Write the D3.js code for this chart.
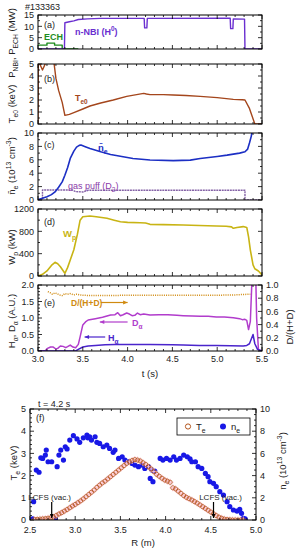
<!DOCTYPE html>
<html>
<head>
<meta charset="utf-8">
<script src="https://cdn.jsdelivr.net/npm/d3@7"></script>
<style>
  body { margin: 0; background: #fff; }
  text { font-family: "Liberation Sans", Arial, sans-serif; fill: #222; }
</style>
</head>
<body>
<svg id="fig" width="296" height="550"></svg>
<script>
// ---- time traces, shot #133363 ----
const echT = [3.0, 3.10, 3.10, 3.185, 3.185, 3.27, 3.27, 3.45];
const echP = [1.7, 1.7, 2.6, 2.6, 1.7, 1.7, 0, 0];

const nbiT = [3.0, 3.295, 3.30, 3.35, 3.40, 3.45, 3.55, 3.70, 4.185, 4.19, 4.215, 4.22, 5.145, 5.15, 5.175, 5.18, 5.305, 5.31, 5.5];
const nbiP = [0, 0, 11.6, 12.0, 12.4, 13.0, 13.3, 13.5, 13.5, 9.3, 9.3, 13.5, 13.6, 9.0, 9.0, 13.3, 13.2, 0, 0];

const te0T = [3.0, 3.004, 3.02, 3.05, 3.08, 3.10, 3.17, 3.18, 3.20, 3.23, 3.27, 3.30, 3.35, 3.40, 3.50, 3.58, 3.70, 3.84, 3.99, 4.10, 4.18, 4.21, 4.25, 4.40, 4.51, 4.65, 4.81, 5.00, 5.18, 5.28, 5.31, 5.36, 5.42, 5.5];
const te0V = [0, 6, 5.0, 4.5, 5.0, 6, 6, 5.0, 3.8, 2.8, 1.8, 0.72, 0.8, 0.95, 1.25, 1.5, 1.75, 2.0, 2.3, 2.45, 2.55, 2.5, 2.45, 2.45, 2.42, 2.38, 2.3, 2.2, 2.05, 2.02, 2.0, 1.3, 0, 0];

const neT = [3.0, 3.05, 3.10, 3.15, 3.19, 3.23, 3.27, 3.30, 3.33, 3.36, 3.40, 3.43, 3.46, 3.48, 3.52, 3.58, 3.70, 3.81, 3.95, 4.06, 4.25, 4.51, 4.70, 4.81, 5.00, 5.11, 5.25, 5.31, 5.34, 5.36, 5.38, 5.40];
const neV = [0.05, 0.25, 0.5, 0.8, 1.2, 1.9, 2.7, 3.7, 4.8, 6.2, 7.3, 7.9, 8.15, 8.2, 8.0, 7.7, 7.2, 6.8, 6.45, 6.2, 5.97, 5.87, 5.95, 6.2, 6.5, 6.7, 7.0, 7.2, 7.6, 8.5, 9.5, 11];

const gasT = [3.0, 3.05, 3.05, 3.38, 3.42, 3.50, 3.56, 5.31, 5.31, 5.5];
const gasV = [0, 0, 1.5, 1.5, 1.25, 1.2, 1.45, 1.45, 0, 0];

const wpT = [3.0, 3.05, 3.10, 3.15, 3.19, 3.22, 3.25, 3.30, 3.33, 3.36, 3.40, 3.44, 3.47, 3.50, 3.58, 3.65, 3.77, 3.85, 3.92, 4.0, 4.14, 4.2, 4.25, 4.4, 4.62, 4.8, 4.99, 5.1, 5.16, 5.18, 5.22, 5.29, 5.33, 5.35, 5.37, 5.40, 5.42, 5.46, 5.5];
const wpV = [0, 30, 90, 190, 245, 220, 166, 48, 150, 287, 470, 750, 1000, 1060, 1075, 1060, 1033, 1000, 973, 960, 955, 950, 925, 920, 913, 905, 895, 890, 880, 855, 870, 885, 870, 700, 465, 200, 130, 90, 20];

const daT = [3.0, 3.08, 3.10, 3.14, 3.17, 3.20, 3.22, 3.25, 3.28, 3.31, 3.33, 3.36, 3.39, 3.42, 3.45, 3.47, 3.50, 3.53, 3.56, 3.64, 3.72, 3.81, 3.86, 3.89, 3.92, 3.95, 3.99, 4.02, 4.05, 4.08, 4.11, 4.14, 4.18, 4.25, 4.35, 4.45, 4.55, 4.62, 4.72, 4.81, 4.9, 4.99, 5.08, 5.18, 5.25, 5.28, 5.31, 5.33, 5.35, 5.37, 5.39, 5.40, 5.43, 5.44, 5.46, 5.5];
const daV = [0, 0, 0.07, 0.12, 0.12, 0.06, 0.08, 0.15, 0.14, 0.1, 0.13, 0.18, 0.12, 0.1, 0.2, 0.43, 0.79, 0.88, 0.94, 0.98, 1.02, 1.09, 1.1, 1.16, 1.07, 1.1, 1.15, 1.12, 1.07, 1.08, 1.15, 1.1, 1.12, 1.09, 1.1, 1.1, 1.08, 1.07, 1.06, 1.05, 1.05, 1.03, 1.03, 1.01, 0.98, 0.95, 0.96, 0.93, 0.65, 0.9, 2.3, 2.3, 2.3, 1.0, 0.05, 0];

const haT = [3.0, 3.42, 3.45, 3.50, 3.56, 3.64, 3.75, 3.86, 4.0, 4.25, 4.5, 4.62, 4.8, 4.99, 5.15, 5.29, 5.33, 5.36, 5.40, 5.42, 5.45, 5.5];
const haV = [0, 0, 0.05, 0.12, 0.15, 0.17, 0.19, 0.2, 0.2, 0.2, 0.19, 0.18, 0.17, 0.17, 0.16, 0.15, 0.17, 0.22, 0.5, 0.22, 0.05, 0];

const ratioT = [3.11, 3.14, 3.16, 3.19, 3.21, 3.24, 3.27, 3.30, 3.33, 3.36, 3.40, 3.43, 3.47, 3.50, 3.6, 3.8, 4.0, 4.5, 5.0, 5.2, 5.35, 5.37];
const ratioV = [0.90, 0.88, 0.86, 0.88, 0.87, 0.85, 0.84, 0.87, 0.86, 0.87, 0.85, 0.86, 0.85, 0.845, 0.84, 0.84, 0.845, 0.845, 0.845, 0.85, 0.86, 0.86];

// ---- radial profiles at t = 4.2 s ----
const teProfR = [2.55, 2.58, 2.61, 2.64, 2.67, 2.70, 2.73, 2.76, 2.79, 2.82, 2.85, 2.88, 2.91, 2.94, 2.97, 3.00, 3.03, 3.06, 3.09, 3.12, 3.15, 3.18, 3.21, 3.24, 3.27, 3.30, 3.33, 3.36, 3.39, 3.42, 3.45, 3.48, 3.51, 3.54, 3.57, 3.60, 3.63, 3.66, 3.69, 3.72, 3.75, 3.78, 3.81, 3.84, 3.87, 3.90, 3.93, 3.96, 3.99, 4.02, 4.05, 4.08, 4.11, 4.14, 4.17, 4.20, 4.23, 4.26, 4.29, 4.32, 4.35, 4.38, 4.41, 4.44, 4.47, 4.50, 4.53, 4.56, 4.59, 4.62, 4.65, 4.68, 4.71, 4.74, 4.77, 4.80, 4.83, 4.86];
const teProfV = [0.02, 0.03, 0.04, 0.05, 0.06, 0.08, 0.1, 0.13, 0.2, 0.27, 0.33, 0.4, 0.47, 0.55, 0.63, 0.7, 0.78, 0.86, 0.95, 1.05, 1.15, 1.25, 1.35, 1.47, 1.57, 1.67, 1.75, 1.85, 1.95, 2.05, 2.15, 2.25, 2.35, 2.45, 2.55, 2.62, 2.68, 2.72, 2.7, 2.66, 2.58, 2.5, 2.4, 2.3, 2.18, 2.06, 1.97, 1.88, 1.8, 1.75, 1.7, 1.45, 1.4, 1.3, 1.2, 1.1, 1.02, 0.96, 0.9, 0.83, 0.76, 0.68, 0.6, 0.52, 0.44, 0.36, 0.28, 0.2, 0.13, 0.08, 0.04, 0.02, 0.01, 0.0, 0.0, 0.0, 0.0, 0.0];

const neProfR = [2.53, 2.54, 2.57, 2.60, 2.62, 2.64, 2.67, 2.68, 2.70, 2.74, 2.78, 2.80, 2.82, 2.84, 2.87, 2.89, 2.91, 2.94, 2.98, 3.02, 3.05, 3.09, 3.13, 3.14, 3.16, 3.18, 3.22, 3.24, 3.27, 3.31, 3.35, 3.38, 3.42, 3.44, 3.48, 3.52, 3.55, 3.59, 3.63, 3.66, 3.70, 3.74, 3.77, 3.81, 3.83, 3.85, 3.86, 3.88, 3.94, 3.97, 4.01, 4.05, 4.09, 4.12, 4.16, 4.20, 4.24, 4.27, 4.29, 4.33, 4.36, 4.40, 4.44, 4.47, 4.49, 4.53, 4.56, 4.60, 4.64, 4.68, 4.71, 4.75, 4.79, 4.82, 4.84, 4.86, 4.88];
const neProfV = [0.1, 1.65, 4.5, 4.3, 5.6, 5.55, 5.85, 6.3, 5.25, 5.25, 0.1, 4.8, 5.85, 6.3, 5.4, 6.6, 6.4, 7.2, 7.6, 7.3, 7.0, 7.4, 7.65, 7.4, 7.5, 7.2, 7.5, 7.0, 6.9, 6.6, 6.75, 6.45, 6.1, 6.3, 5.55, 5.7, 5.4, 5.25, 5.1, 4.95, 4.8, 4.95, 4.65, 4.8, 3.75, 4.5, 3.45, 4.4, 5.55, 5.4, 5.55, 5.4, 5.7, 5.4, 5.55, 5.85, 5.7, 5.5, 5.25, 5.25, 4.8, 4.65, 4.2, 3.9, 3.45, 3.3, 3.0, 2.55, 2.25, 1.65, 1.2, 0.9, 0.8, 0.95, 0.6, 0.15, 0.1];

const lcfsR = [2.74, 4.53];

// ---- helpers ----
const svg = d3.select("#fig");
const defs = svg.append("defs");
const fmt1 = d3.format(".1f");
const TICK_FS = 9;

function steps(lo, hi, step) {
  const n = Math.round((hi - lo) / step);
  return d3.range(n + 1).map(i => +(lo + i * step).toFixed(5));
}
function onStep(v, step) {
  return Math.abs(v / step - Math.round(v / step)) < 1e-6;
}

// rich text with sub/superscripts
function rich(t, parts, fs) {
  let shift = 0;
  parts.forEach(([s, k]) => {
    const target = k === "sub" ? fs * 0.3 : k === "sup" ? -fs * 0.4 : 0;
    t.append("tspan").attr("dy", target - shift).attr("font-size", k ? fs * 0.72 : fs).text(s);
    shift = target;
  });
  return t;
}

function frame(xs, ys, xMinor, xMajor, yMinor, yMajor, mirror) {
  const [x0, x1] = xs.range(), [yb, yt] = ys.range();
  const g = svg.append("g").attr("stroke", "#000").attr("stroke-width", 0.8);
  g.append("rect").attr("x", x0).attr("y", yt).attr("width", x1 - x0).attr("height", yb - yt)
    .attr("fill", "none").attr("stroke-width", 1);
  const xd = xs.domain(), yd = ys.domain();
  steps(xd[0], xd[1], xMinor).forEach(v => {
    const len = onStep(v - xd[0], xMajor) ? 4 : 2;
    g.append("line").attr("x1", xs(v)).attr("x2", xs(v)).attr("y1", yb).attr("y2", yb - len);
    g.append("line").attr("x1", xs(v)).attr("x2", xs(v)).attr("y1", yt).attr("y2", yt + len);
  });
  steps(yd[0], yd[1], yMinor).forEach(v => {
    const len = onStep(v, yMajor) ? 4 : 2;
    g.append("line").attr("x1", x0).attr("x2", x0 + len).attr("y1", ys(v)).attr("y2", ys(v));
    if (mirror) g.append("line").attr("x1", x1).attr("x2", x1 - len).attr("y1", ys(v)).attr("y2", ys(v));
  });
  return g;
}

function rightTicks(xPos, ys, minor, major) {
  const g = svg.append("g").attr("stroke", "#000").attr("stroke-width", 0.8);
  const yd = ys.domain();
  steps(yd[0], yd[1], minor).forEach(v => {
    const len = onStep(v, major) ? 4 : 2;
    g.append("line").attr("x1", xPos).attr("x2", xPos - len).attr("y1", ys(v)).attr("y2", ys(v));
  });
}

function yLabels(vals, ys, xPos, anchor, f) {
  vals.forEach(v => {
    svg.append("text").attr("x", xPos).attr("y", ys(v) + 3.2).attr("text-anchor", anchor)
      .attr("font-size", TICK_FS).text(f ? f(v) : v);
  });
}

let clipId = 0;
function clipFor(xs, ys) {
  const id = "clip" + (clipId++);
  const [x0, x1] = xs.range(), [yb, yt] = ys.range();
  defs.append("clipPath").attr("id", id).append("rect")
    .attr("x", x0).attr("y", yt).attr("width", x1 - x0).attr("height", yb - yt);
  return svg.append("g").attr("clip-path", `url(#${id})`);
}

function trace(g, xs, ys, tArr, vArr, color, width, dash) {
  const line = d3.line().x(d => xs(d[0])).y(d => ys(d[1]));
  const p = g.append("path").datum(d3.zip(tArr, vArr)).attr("d", line)
    .attr("fill", "none").attr("stroke", color).attr("stroke-width", width)
    .attr("stroke-linejoin", "round");
  if (dash) p.attr("stroke-dasharray", dash);
  return p;
}

function yTitle(xPos, yCenter, parts, fs) {
  const t = svg.append("text").attr("transform", `translate(${xPos},${yCenter}) rotate(-90)`)
    .attr("text-anchor", "middle").attr("font-size", fs);
  return rich(t, parts, fs);
}

function note(xPos, yPos, parts, color, fs, bold) {
  const t = svg.append("text").attr("x", xPos).attr("y", yPos).attr("font-size", fs)
    .style("fill", color).attr("font-weight", bold ? "bold" : "normal");
  return rich(t, parts, fs);
}

function arrow(x1, y1, x2, y2, color, head) {
  svg.append("line").attr("x1", x1).attr("y1", y1).attr("x2", x2).attr("y2", y2)
    .attr("stroke", color).attr("stroke-width", 1.2);
  const a = Math.atan2(y2 - y1, x2 - x1), h = head || 4.5;
  const pts = [[x2, y2],
    [x2 - h * Math.cos(a) + h * 0.45 * Math.sin(a), y2 - h * Math.sin(a) - h * 0.45 * Math.cos(a)],
    [x2 - h * Math.cos(a) - h * 0.45 * Math.sin(a), y2 - h * Math.sin(a) + h * 0.45 * Math.cos(a)]];
  svg.append("polygon").attr("points", pts.map(p => p.join(",")).join(" ")).attr("fill", color);
}

// ---- time-trace panels ----
const x = d3.scaleLinear().domain([3.0, 5.5]).range([38, 262]);

svg.append("text").attr("x", 25).attr("y", 9.5).attr("font-size", 9).text("#133363");

// (a) heating power
const ya = d3.scaleLinear().domain([0, 15]).range([49, 15]);
const ga = clipFor(x, ya);
trace(ga, x, ya, echT, echP, "#1e8c1e", 1.4);
trace(ga, x, ya, nbiT, nbiP, "#6a2fd0", 1.4);
frame(x, ya, 0.1, 0.5, 2.5, 5, true);
yLabels([0, 5, 10, 15], ya, 34, "end");
note(44, 28, [["(a)"]], "#222", 9);
note(44, 40, [["ECH"]], "#1e8c1e", 9, true);
note(75, 35, [["n-NBI (H"], ["0", "sup"], [")"]], "#6a2fd0", 9, true);
yTitle(15, 43, [["P"], ["NBI", "sub"], [", P"], ["ECH", "sub"], [" (MW)"]], 9.5);

// (b) central Te
const yb = d3.scaleLinear().domain([0, 5]).range([124, 64]);
const gb = clipFor(x, yb);
trace(gb, x, yb, te0T, te0V, "#a4461c", 1.4);
frame(x, yb, 0.1, 0.5, 0.5, 1, true);
yLabels([0, 1, 2, 3, 4, 5], yb, 34, "end");
note(44, 82, [["(b)"]], "#222", 9);
note(75, 101, [["T"], ["e0", "sub"]], "#a4461c", 9, true);
yTitle(15, 104, [["T"], ["e0", "sub"], [" (keV)"]], 9.5);

// (c) line-averaged density and gas puff
const yc = d3.scaleLinear().domain([0, 10]).range([200, 133]);
const gc = clipFor(x, yc);
trace(gc, x, yc, gasT, gasV, "#8462a6", 1.4, "2,0.7");
trace(gc, x, yc, neT, neV, "#1c2fc4", 1.6);
frame(x, yc, 0.1, 0.5, 1, 2, true);
yLabels([0, 2, 4, 6, 8, 10], yc, 34, "end");
note(44, 148, [["(c)"]], "#222", 9);
note(98, 151, [["n\u0304"], ["e", "sub"]], "#1c2fc4", 9.5, true);
note(68, 189, [["gas puff (D"], ["2", "sub"], [")"]], "#8a3aa8", 9, false);
yTitle(15, 166, [["n\u0304"], ["e", "sub"], [" (10"], ["13", "sup"], [" cm"], ["-3", "sup"], [")"]], 9.5);

// (d) stored energy
const yd = d3.scaleLinear().domain([0, 1200]).range([276, 209]);
const gd = clipFor(x, yd);
trace(gd, x, yd, wpT, wpV, "#c8b414", 1.6);
frame(x, yd, 0.1, 0.5, 200, 400, true);
yLabels([0, 400, 800, 1200], yd, 34, "end");
note(44, 225, [["(d)"]], "#222", 9);
note(63, 237, [["W"], ["p", "sub"]], "#c8b414", 9.5, true);
yTitle(15, 247, [["W"], ["p", "sub"], [" (kW)"]], 9.5);

// (e) H-alpha, D-alpha and isotope ratio
const ye = d3.scaleLinear().domain([0, 2]).range([351, 285]);
const ye2 = d3.scaleLinear().domain([0, 1]).range([351, 285]);
const ge = clipFor(x, ye);
trace(ge, x, ye2, ratioT, ratioV, "#d08a10", 1.5, "1,1.2");
trace(ge, x, ye, daT, daV, "#b13ccc", 1.5);
trace(ge, x, ye, haT, haV, "#4a24cc", 1.5);
frame(x, ye, 0.1, 0.5, 0.1, 0.5, false);
rightTicks(262, ye2, 0.1, 0.2);
yLabels([0, 0.5, 1, 1.5, 2], ye, 34, "end", fmt1);
yLabels([0, 0.2, 0.4, 0.6, 0.8, 1], ye2, 266, "start", fmt1);
[3.0, 3.5, 4.0, 4.5, 5.0, 5.5].forEach(v => {
  svg.append("text").attr("x", x(v)).attr("y", 362).attr("text-anchor", "middle")
    .attr("font-size", TICK_FS).text(fmt1(v));
});
svg.append("text").attr("x", x(4.25)).attr("y", 377).attr("text-anchor", "middle")
  .attr("font-size", 9.5).text("t (s)");
note(44, 306, [["(e)"]], "#222", 9);
note(71, 306, [["D/(H+D)"]], "#d08a10", 8.5, true);
arrow(x(3.7), 302.5, x(4.0), 302.5, "#d08a10");
note(132, 326, [["D"], ["\u03b1", "sub"]], "#b13ccc", 9, true);
arrow(x(4.0), 322, x(3.69), 322, "#b13ccc");
note(108, 341, [["H"], ["\u03b1", "sub"]], "#4a24cc", 9, true);
arrow(x(3.75), 337, x(3.52), 337, "#4a24cc");
yTitle(15, 321, [["H"], ["\u03b1", "sub"], [", D"], ["\u03b1", "sub"], [" (A.U.)"]], 9.5);
yTitle(293, 327, [["D/(H+D)"]], 9.5);

// ---- (f) radial profiles ----
const xr = d3.scaleLinear().domain([2.5, 5.0]).range([30, 256]);
const yt = d3.scaleLinear().domain([0, 5]).range([520, 409]);
const yn = d3.scaleLinear().domain([0, 10]).range([520, 409]);
const gf = clipFor(xr, yt);

gf.append("g").selectAll("circle").data(d3.zip(neProfR, neProfV)).join("circle")
  .attr("cx", d => xr(d[0])).attr("cy", d => yn(d[1])).attr("r", 2.6).attr("fill", "#1818e6");

const eb = gf.append("g").attr("stroke", "#ffc4d4").attr("stroke-width", 1);
d3.zip(teProfR, teProfV).forEach(d => {
  eb.append("line").attr("x1", xr(d[0]) - 3.5).attr("x2", xr(d[0]) + 3.5).attr("y1", yt(d[1])).attr("y2", yt(d[1]));
  eb.append("line").attr("x1", xr(d[0])).attr("x2", xr(d[0])).attr("y1", yt(d[1]) - 3.5).attr("y2", yt(d[1]) + 3.5);
});
gf.append("g").selectAll("circle").data(d3.zip(teProfR, teProfV)).join("circle")
  .attr("cx", d => xr(d[0])).attr("cy", d => yt(d[1])).attr("r", 2.1)
  .attr("fill", "none").attr("stroke", "#b4561e").attr("stroke-width", 0.8);

frame(xr, yt, 0.1, 0.5, 0.2, 1, false);
rightTicks(256, yn, 0.5, 2);
yLabels([0, 1, 2, 3, 4, 5], yt, 26, "end");
yLabels([0, 2, 4, 6, 8, 10], yn, 260, "start");
[2.5, 3.0, 3.5, 4.0, 4.5, 5.0].forEach(v => {
  svg.append("text").attr("x", xr(v)).attr("y", 533).attr("text-anchor", "middle")
    .attr("font-size", TICK_FS).text(fmt1(v));
});
svg.append("text").attr("x", xr(3.75)).attr("y", 546).attr("text-anchor", "middle")
  .attr("font-size", 9.5).text("R (m)");
yTitle(17, 463, [["T"], ["e", "sub"], [" (keV)"]], 9.5);
yTitle(286, 461, [["n"], ["e", "sub"], [" (10"], ["13", "sup"], [" cm"], ["-3", "sup"], [")"]], 9.5);
svg.append("text").attr("x", 38).attr("y", 407).attr("font-size", 9).text("t = 4.2 s");
note(36, 421, [["(f)"]], "#222", 9);

lcfsR.forEach(r => {
  svg.append("text").attr("x", xr(r) + (r < 3 ? -2 : 7)).attr("y", 500).attr("text-anchor", "middle")
    .attr("font-size", 8).text("LCFS (vac.)");
  arrow(xr(r), 502, xr(r), 518, "#000", 4);
});

// legend
const lg = svg.append("g");
lg.append("rect").attr("x", 177).attr("y", 418).attr("width", 73).attr("height", 17)
  .attr("fill", "#fff").attr("stroke", "#000").attr("stroke-width", 0.8);
lg.append("circle").attr("cx", 188).attr("cy", 426.5).attr("r", 2.6)
  .attr("fill", "none").attr("stroke", "#b4561e").attr("stroke-width", 1);
note(196, 430, [["T"], ["e", "sub"]], "#222", 9.5);
lg.append("circle").attr("cx", 223).attr("cy", 426.5).attr("r", 3).attr("fill", "#1818e6");
note(231, 430, [["n"], ["e", "sub"]], "#222", 9.5);
</script>
</body>
</html>
